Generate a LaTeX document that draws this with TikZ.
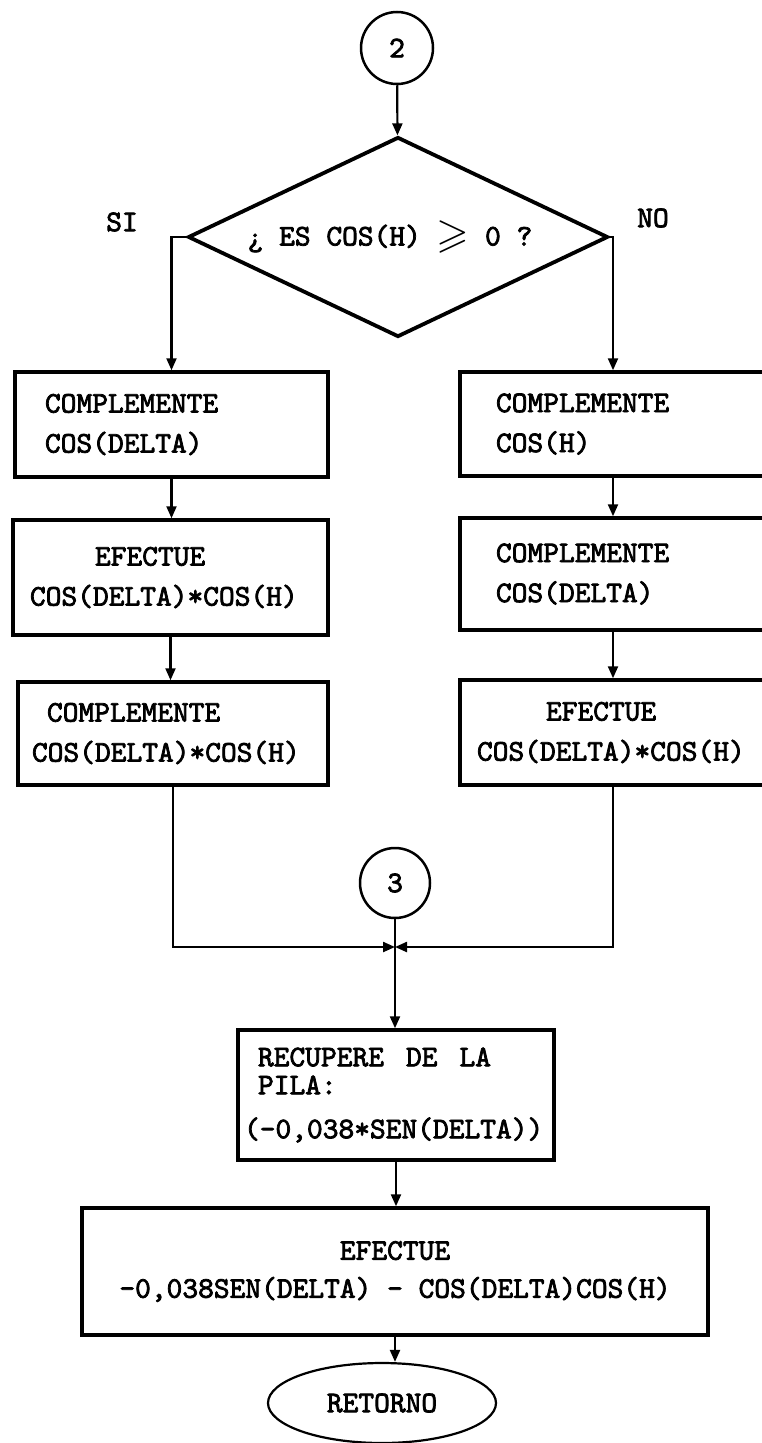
\documentclass[tikz,border=0pt]{standalone}
\usepackage{amsmath, amssymb}
\usepackage{fontspec}
\setmonofont{lmmono10-regular.otf}[AutoFakeBold=2.5]
\usepackage{tikz}
\usetikzlibrary{arrows.meta, positioning, shapes.geometric}

\begin{document}
\begin{tikzpicture}[x=1pt, y=-1pt,
    font=\ttfamily\bfseries\fontsize{30}{40}\selectfont,
    caja/.style={draw, rectangle, line width=3.5pt, align=left, inner ysep=0pt},
    conector/.style={draw, circle, line width=2.5pt, inner sep=0pt, minimum size=72pt},
    flecha/.style={line width=2.2pt, -{Triangle[length=12pt, width=10pt]}},
    linea/.style={line width=2.2pt}]
    \clip (0, 0) rectangle (762, 1443);

    \node[conector] (c2) at (397, 48) {2};
    \node[draw, diamond, line width=3.8pt, aspect=2.1, inner sep=0pt,
          minimum width=420pt, minimum height=200pt] (dec) at (398, 237)
        {\hspace*{-16pt}¿ ES COS(H) \raisebox{-2pt}{\scalebox{1.4}{$\boldsymbol{\geqslant}$}} 0 ?};
    \node (si) at (122, 222) {SI};
    \node (no) at (653, 218) {NO};

    % rama SI
    \node[caja, text width=253pt, inner xsep=30pt, minimum height=105pt] (compDelta) at (171.5, 424.5)
        {COMPLEMENTE\\COS(DELTA)};
    \node[caja, text width=281pt, inner xsep=17pt, minimum height=115pt] (efecIzq) at (170.5, 577.5)
        {\hspace*{65pt}EFECTUE\\COS(DELTA)*COS(H)};
    \node[caja, text width=282pt, inner xsep=14pt, minimum height=103pt] (compProd) at (173, 733.5)
        {\hspace*{15pt}COMPLEMENTE\\COS(DELTA)*COS(H)};

    % rama NO
    \node[caja, text width=234pt, inner xsep=36pt, minimum height=104pt] (compH) at (613, 424)
        {COMPLEMENTE\\COS(H)};
    \node[caja, text width=234pt, inner xsep=36pt, minimum height=112pt] (compDeltaDer) at (613, 574)
        {COMPLEMENTE\\COS(DELTA)};
    \node[caja, text width=272pt, inner xsep=17pt, minimum height=105pt] (efecDer) at (613, 732.5)
        {\hspace*{69pt}EFECTUE\\COS(DELTA)*COS(H)};

    \node[conector, minimum size=70pt] (c3) at (395, 883) {3};
    \coordinate (m) at (395, 947);

    \node[caja, text width=304pt, inner xsep=6pt, minimum height=130pt,
          font=\ttfamily\bfseries\fontsize{30}{28}\selectfont] (recup) at (396, 1095)
        {\hspace*{14pt}RECUPERE\hspace{22pt}DE\hspace{22pt}LA\\\hspace*{14pt}PILA:\\[16pt](-0,038*SEN(DELTA))};
    \node[caja, align=center, minimum width=626pt, minimum height=127pt,
          font=\ttfamily\bfseries\fontsize{30}{38}\selectfont] (efecFinal) at (395, 1271.5)
        {EFECTUE\\-0,038SEN(DELTA) - COS(DELTA)COS(H)};
    \node[draw, ellipse, line width=2.2pt, inner sep=0pt, minimum width=228pt, minimum height=80pt] (retorno) at (382, 1403)
        {RETORNO};

    % conexiones
    \draw[flecha] (c2) -- (dec);
    \draw[flecha] (dec.west) -| (compDelta.north);
    \draw[flecha] (dec.east) -| (compH.north);
    \draw[flecha] (compDelta.south) -- (compDelta.south |- efecIzq.north);
    \draw[flecha] (efecIzq.south) -- (efecIzq.south |- compProd.north);
    \draw[flecha] (compH.south) -- (compH.south |- compDeltaDer.north);
    \draw[flecha] (compDeltaDer.south) -- (compDeltaDer.south |- efecDer.north);
    \draw[flecha] (compProd.south) |- (m);
    \draw[flecha] (efecDer.south) |- (m);
    \draw[linea] (c3) -- (m);
    \draw[flecha] (m) -- (m |- recup.north);
    \draw[flecha] (recup.south) -- (recup.south |- efecFinal.north);
    \draw[flecha] (efecFinal.south) -- (efecFinal.south |- retorno.north);
\end{tikzpicture}
\end{document}
